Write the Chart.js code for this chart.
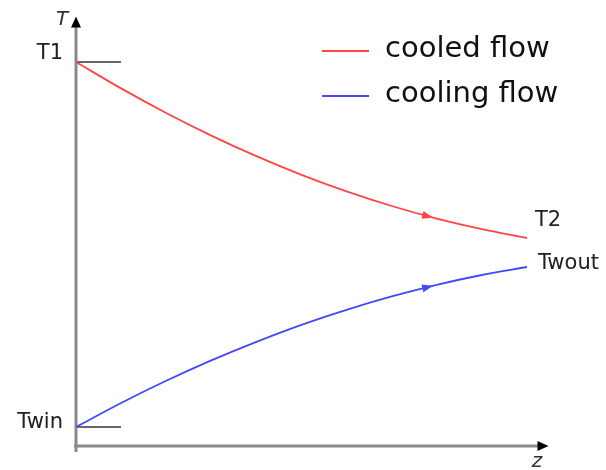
<!DOCTYPE html>
<html>
<head>
<meta charset="utf-8">
<script src="https://cdn.jsdelivr.net/npm/chart.js@4"></script>
<style>
  html, body { margin: 0; padding: 0; background: #fff; }
  #wrap { width: 606px; height: 470px; position: relative; }
</style>
</head>
<body>
<div id="wrap"><canvas id="flowChart" width="606" height="470"></canvas></div>
<script>
// Temperature profiles along the exchanger (z normalised 0..1, T in arbitrary units)
const zPositions = [0, 0.1, 0.2, 0.3, 0.4, 0.5, 0.6, 0.7, 0.8, 0.9, 1.0];
const cooledFlow = [96, 89.4, 83.25, 77.6, 72.45, 67.8, 63.65, 60, 56.85, 54.2, 52];
const coolingFlow = [4.75, 10.75, 16.3, 21.4, 26.05, 30.3, 34.05, 37.4, 40.3, 42.75, 44.75];
const seriesNames = ['cooled flow', 'cooling flow'];
const seriesColors = ['#ff4545', '#4646ff'];
const endLabels = [['T1', 'T2'], ['Twin', 'Twout']];
const axisNames = ['z', 'T'];

const toPoints = vals => vals.map((v, i) => ({ x: zPositions[i], y: v }));

function arrowHead(ctx, x, y, angle, len, wid, color) {
    ctx.save();
    ctx.translate(x, y);
    ctx.rotate(angle);
    ctx.fillStyle = color;
    ctx.beginPath();
    ctx.moveTo(len / 2, 0);
    ctx.lineTo(-len / 2, -wid / 2);
    ctx.lineTo(-len / 2, wid / 2);
    ctx.closePath();
    ctx.fill();
    ctx.restore();
}

// point and direction on the drawn bezier between points i and i+1
function bezierAt(p0, p1, t) {
    const c1x = p0.cp2x, c1y = p0.cp2y, c2x = p1.cp1x, c2y = p1.cp1y;
    const u = 1 - t;
    const x = u*u*u*p0.x + 3*u*u*t*c1x + 3*u*t*t*c2x + t*t*t*p1.x;
    const y = u*u*u*p0.y + 3*u*u*t*c1y + 3*u*t*t*c2y + t*t*t*p1.y;
    const dx = 3*u*u*(c1x - p0.x) + 6*u*t*(c2x - c1x) + 3*t*t*(p1.x - c2x);
    const dy = 3*u*u*(c1y - p0.y) + 6*u*t*(c2y - c1y) + 3*t*t*(p1.y - c2y);
    return { x, y, angle: Math.atan2(dy, dx) };
}

const decorations = {
    id: 'decorations',
    beforeDatasetsDraw(chart) {
        const { ctx, chartArea: a } = chart;
        const x0 = a.left, yb = a.bottom;
        ctx.save();
        // tick marks at the inlet temperatures
        ctx.strokeStyle = '#666';
        ctx.lineWidth = 2;
        const ys = chart.scales.y;
        [cooledFlow[0], coolingFlow[0]].forEach(v => {
            const py = Math.round(ys.getPixelForValue(v));
            ctx.beginPath();
            ctx.moveTo(x0, py);
            ctx.lineTo(x0 + 45, py);
            ctx.stroke();
        });
        // axes
        ctx.strokeStyle = '#8a8a8a';
        ctx.lineWidth = 3;
        ctx.beginPath();
        ctx.moveTo(x0, yb + 6);
        ctx.lineTo(x0, 26);
        ctx.moveTo(x0 - 2, yb);
        ctx.lineTo(540, yb);
        ctx.stroke();
        ctx.restore();
        arrowHead(ctx, x0, 22, -Math.PI / 2, 11, 10, '#000');
        arrowHead(ctx, 543, yb, 0, 11, 10, '#000');
    },
    afterDatasetsDraw(chart) {
        const { ctx } = chart;
        const xs = chart.scales.x, ys = chart.scales.y;
        ctx.save();
        // direction arrows on each curve
        chart.data.datasets.forEach((ds, di) => {
            const pts = chart.getDatasetMeta(di).data;
            const p = bezierAt(pts[7], pts[8], 0.8);
            arrowHead(ctx, p.x, p.y, p.angle, 11, 8, ds.borderColor);
        });
        // end labels
        ctx.font = '21px "DejaVu Sans"';
        ctx.fillStyle = '#222';
        ctx.textBaseline = 'middle';
        const last = zPositions.length - 1;
        ctx.textAlign = 'right';
        ctx.fillText(endLabels[0][0], 63, ys.getPixelForValue(cooledFlow[0]) - 8);
        ctx.fillText(endLabels[1][0], 63, ys.getPixelForValue(coolingFlow[0]) - 4);
        ctx.textAlign = 'left';
        ctx.fillText(endLabels[0][1], xs.getPixelForValue(zPositions[last]) + 8, ys.getPixelForValue(cooledFlow[last]) - 17);
        ctx.fillText(endLabels[1][1], xs.getPixelForValue(zPositions[last]) + 11, ys.getPixelForValue(coolingFlow[last]) - 3);
        // axis names
        ctx.font = 'italic 20px "DejaVu Sans"';
        ctx.fillStyle = '#333';
        ctx.textAlign = 'center';
        ctx.fillText(axisNames[1], 62, 20);
        ctx.fillText(axisNames[0], 537, 462);
        // legend
        ctx.font = '29px "DejaVu Sans"';
        ctx.fillStyle = '#111';
        ctx.textAlign = 'left';
        seriesNames.forEach((name, i) => {
            const ly = 51 + i * 45;
            ctx.strokeStyle = seriesColors[i];
            ctx.lineWidth = 2;
            ctx.beginPath();
            ctx.moveTo(322, ly);
            ctx.lineTo(369, ly);
            ctx.stroke();
            ctx.fillText(name, 385, ly - 2);
        });
        ctx.restore();
    }
};

new Chart(document.getElementById('flowChart'), {
    type: 'line',
    data: {
        datasets: [
            { label: seriesNames[0], data: toPoints(cooledFlow), borderColor: seriesColors[0] },
            { label: seriesNames[1], data: toPoints(coolingFlow), borderColor: seriesColors[1] }
        ]
    },
    options: {
        responsive: false,
        animation: false,
        events: [],
        layout: { padding: { left: 76, right: 79, top: 46, bottom: 24 } },
        elements: {
            line: { borderWidth: 1.8, cubicInterpolationMode: 'monotone', fill: false },
            point: { radius: 0 }
        },
        scales: {
            x: { type: 'linear', min: 0, max: 1, display: false },
            y: { type: 'linear', min: 0, max: 100, display: false }
        },
        plugins: { legend: { display: false }, tooltip: { enabled: false } }
    },
    plugins: [decorations]
});
</script>
</body>
</html>
